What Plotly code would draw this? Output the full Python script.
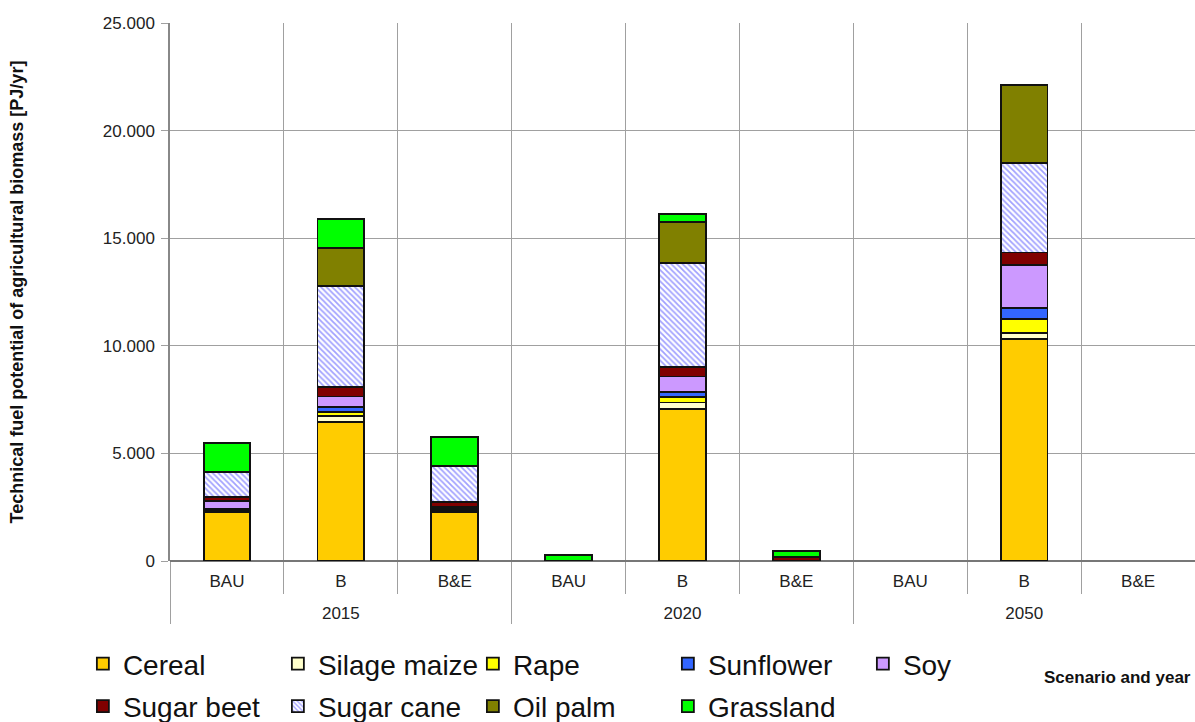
import plotly.graph_objects as go

years = ["2015", "2015", "2015", "2020", "2020", "2020", "2050", "2050", "2050"]
scenarios = ["BAU", "B", "B&E", "BAU", "B", "B&E", "BAU", "B", "B&E"]

cereal       = [2260, 6470, 2290, None, 7050, None, None, 10300, None]
silage_maize = [50, 270, 80, None, 320, None, None, 310, None]
rape         = [50, 200, 70, None, 240, None, None, 620, None]
sunflower    = [60, 230, 80, None, 230, None, None, 540, None]
soy          = [380, 470, None, None, 730, None, None, 1980, None]
sugar_beet   = [190, 460, 240, None, 460, 200, None, 590, None]
sugar_cane   = [1160, 4680, 1650, None, 4800, None, None, 4140, None]
oil_palm     = [None, 1780, None, None, 1940, None, None, 3640, None]
grassland    = [1350, 1320, 1370, 280, 340, 280, None, None, None]

series = [
    ("Cereal", cereal, "#FFCC00", "legend"),
    ("Silage maize", silage_maize, "#FFFFCC", "legend"),
    ("Rape", rape, "#FFFF00", "legend"),
    ("Sunflower", sunflower, "#3366FF", "legend"),
    ("Soy", soy, "#CC99FF", "legend"),
    ("Sugar beet", sugar_beet, "#800000", "legend2"),
    ("Sugar cane", sugar_cane, "pattern", "legend2"),
    ("Oil palm", oil_palm, "#808000", "legend2"),
    ("Grassland", grassland, "#00FF00", "legend2"),
]

# first-level labels get an extra (empty) line so the year row sits lower
scen_labels = [s + "<br><span style='font-size:4px'> </span>" for s in scenarios]

fig = go.Figure()
for name, vals, col, leg in series:
    if col == "pattern":
        marker = dict(color="white",
                      pattern=dict(shape="\\", fgcolor="#4444FF", bgcolor="white",
                                   size=4, solidity=0.45, fillmode="overlay"),
                      line=dict(color="#111", width=1.8))
    else:
        marker = dict(color=col, line=dict(color="#111", width=1.8))
    fig.add_trace(go.Bar(x=[years, scen_labels], y=vals, name=name, marker=marker,
                         legend=leg))

legend_common = dict(orientation="h", xanchor="left", yanchor="top",
                     bgcolor="rgba(0,0,0,0)", font=dict(size=28, color="#111"),
                     entrywidth=150, entrywidthmode="pixels",
                     traceorder="normal", itemclick=False)

fig.update_layout(
    barmode="stack",
    bargap=0.59,
    width=1195, height=722,
    margin=dict(l=170, r=0, t=23, b=161, autoexpand=False),
    plot_bgcolor="white", paper_bgcolor="white",
    separators=",.",
    font=dict(family="Liberation Sans, Arial, sans-serif", color="#222"),
    showlegend=True,
    legend=dict(x=-0.085, y=-0.145, **legend_common),
    legend2=dict(x=-0.085, y=-0.224, **legend_common),
    annotations=[dict(text="<b>Scenario and year</b>", xref="paper", yref="paper",
                      x=0.998, y=-0.216, xanchor="right", yanchor="middle", showarrow=False,
                      font=dict(size=17, color="#111"))],
)
fig.update_yaxes(range=[0, 25000], tickvals=[0, 5000, 10000, 15000, 20000, 25000],
                 tickformat=",d", showgrid=True, gridcolor="#A0A0A0", gridwidth=1,
                 showline=True, linecolor="#888", linewidth=1.5,
                 ticks="outside", ticklen=7, tickcolor="#A0A0A0",
                 ticklabelstandoff=3,
                 tickfont=dict(size=17, color="#222"), automargin=False,
                 zeroline=True, zerolinecolor="#777", zerolinewidth=2,
                 title=dict(text="<b>Technical fuel potential of agricultural biomass [PJ/yr]</b>",
                            font=dict(size=18, color="#111"), standoff=75))
fig.update_xaxes(type="multicategory", showgrid=True, gridcolor="#A0A0A0", gridwidth=1,
                 showdividers=True, dividercolor="#A0A0A0", dividerwidth=1,
                 ticks="outside", ticklen=32, tickcolor="#A0A0A0", automargin=False,
                 ticklabelstandoff=8,
                 tickfont=dict(size=17, color="#222"))

fig.write_html("out.html", config={"displayModeBar": False},
               post_script="document.body.style.margin='0';document.body.style.overflow='hidden';")
